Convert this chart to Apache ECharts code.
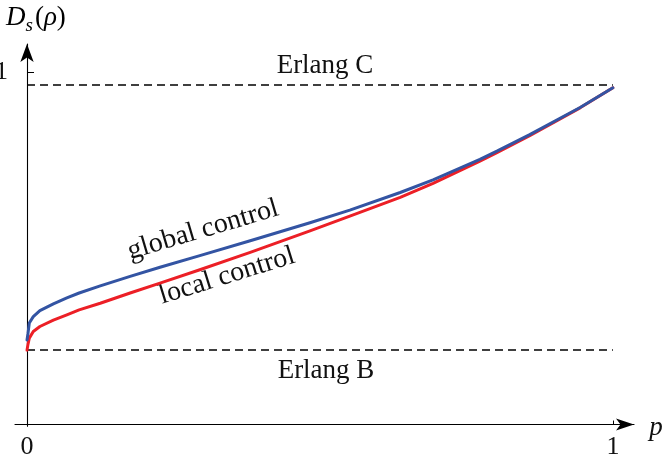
<!DOCTYPE html>
<html><head><meta charset="utf-8">
<script src="https://cdn.jsdelivr.net/npm/echarts@6/dist/echarts.min.js"></script>
<style>html,body{margin:0;padding:0;background:#fff}#c{width:667px;height:459px}</style>
</head><body><div id="c"></div>
<script>
// ---- data ----
const pValues       = [0, 0.0017, 0.0039, 0.0107, 0.022, 0.045, 0.068, 0.089, 0.125, 0.176, 0.227, 0.295, 0.381, 0.483, 0.551, 0.637, 0.693, 0.773, 0.802, 0.858, 0.944, 1.0];
const globalControl = [0.240, 0.259, 0.288, 0.306, 0.323, 0.342, 0.359, 0.373, 0.393, 0.420, 0.446, 0.479, 0.521, 0.572, 0.608, 0.658, 0.694, 0.752, 0.775, 0.822, 0.899, 0.955];
const localControl  = [0.211, 0.228, 0.245, 0.264, 0.278, 0.296, 0.311, 0.325, 0.344, 0.373, 0.401, 0.439, 0.488, 0.549, 0.591, 0.644, 0.684, 0.747, 0.771, 0.819, 0.898, 0.955];
const erlangC = 0.963;
const erlangB = 0.211;
const xTickValues = [0, 1];
const yTickValues = [1];
const curveLabels = ['global control', 'local control'];
const refLabels = ['Erlang C', 'Erlang B'];

const FONT = "'Liberation Serif', 'Times New Roman', serif";
const pair = (xs, ys) => xs.map((x, i) => [x, ys[i]]);

const chart = echarts.init(document.getElementById('c'), null, {renderer: 'canvas'});
chart.setOption({
  backgroundColor: '#fff',
  animation: false,
  textStyle: {fontFamily: FONT},
  grid: {left: 15, right: 33, top: 44, bottom: 32.7, outerBoundsMode: 'none'},
  xAxis: {
    type: 'value', min: -0.0205, max: 1.036,
    axisLine: {onZero: true, lineStyle: {color: '#000', width: 1.1}, symbol: ['none', 'arrow'], symbolSize: [9, 18]},
    axisTick: {show: true, inside: true, length: 4, customValues: [1], lineStyle: {color: '#000', width: 1}},
    axisLabel: {customValues: xTickValues, margin: 8, fontFamily: FONT, fontSize: 26, color: '#111', formatter: v => String(v)},
    splitLine: {show: false}
  },
  yAxis: {
    type: 'value', min: -0.005, max: 1.079,
    axisLine: {onZero: true, lineStyle: {color: '#000', width: 1.1}, symbol: ['none', 'arrow'], symbolSize: [10, 18]},
    axisTick: {show: true, inside: true, length: 7, customValues: yTickValues, lineStyle: {color: '#000', width: 1}},
    axisLabel: {customValues: yTickValues, margin: 7, fontFamily: FONT, fontSize: 26, color: '#111', formatter: v => String(v)},
    splitLine: {show: false}
  },
  series: [
    {type: 'line', name: refLabels[0], data: [[0, erlangC], [1, erlangC]], symbol: 'none', silent: true,
     lineStyle: {color: '#000', width: 1.5, type: [8, 5]}},
    {type: 'line', name: refLabels[1], data: [[0, erlangB], [1, erlangB]], symbol: 'none', silent: true,
     lineStyle: {color: '#000', width: 1.5, type: [8, 5]}},
    {type: 'line', name: curveLabels[1], data: pair(pValues, localControl), symbol: 'none', smooth: false,
     lineStyle: {color: '#ec1f26', width: 3, join: 'round', cap: 'round'}},
    {type: 'line', name: curveLabels[0], data: pair(pValues, globalControl), symbol: 'none', smooth: false,
     lineStyle: {color: '#3354a3', width: 3, join: 'round', cap: 'round'}}
  ],
  graphic: [
    {type: 'text', x: 6, y: 1, style: {
      text: '{i|D}{s|s}{n|(}{i|ρ}{n|)}',
      rich: {
        i: {fontFamily: FONT, fontStyle: 'italic', fontSize: 27, color: '#111', lineHeight: 34},
        n: {fontFamily: FONT, fontSize: 27, color: '#111', lineHeight: 34},
        s: {fontFamily: FONT, fontStyle: 'italic', fontSize: 19, color: '#111', lineHeight: 34, verticalAlign: 'bottom', padding: [0, 2, 0, 0]}
      }}},
    {type: 'text', x: 656, y: 428, style: {text: 'p', fontFamily: FONT, fontStyle: 'italic', fontSize: 27, fill: '#111', align: 'center', verticalAlign: 'middle'}},
    {type: 'text', x: 325, y: 66, style: {text: refLabels[0], fontFamily: FONT, fontSize: 27, fill: '#111', align: 'center', verticalAlign: 'middle'}},
    {type: 'text', x: 326, y: 371, style: {text: refLabels[1], fontFamily: FONT, fontSize: 27, fill: '#111', align: 'center', verticalAlign: 'middle'}},
    {type: 'text', x: 203, y: 230, rotation: 0.288, style: {text: curveLabels[0], fontFamily: FONT, fontSize: 28, fill: '#111', align: 'center', verticalAlign: 'middle'}},
    {type: 'text', x: 227, y: 276, rotation: 0.30, style: {text: curveLabels[1], fontFamily: FONT, fontSize: 28, fill: '#111', align: 'center', verticalAlign: 'middle'}}
  ]
});
</script></body></html>
